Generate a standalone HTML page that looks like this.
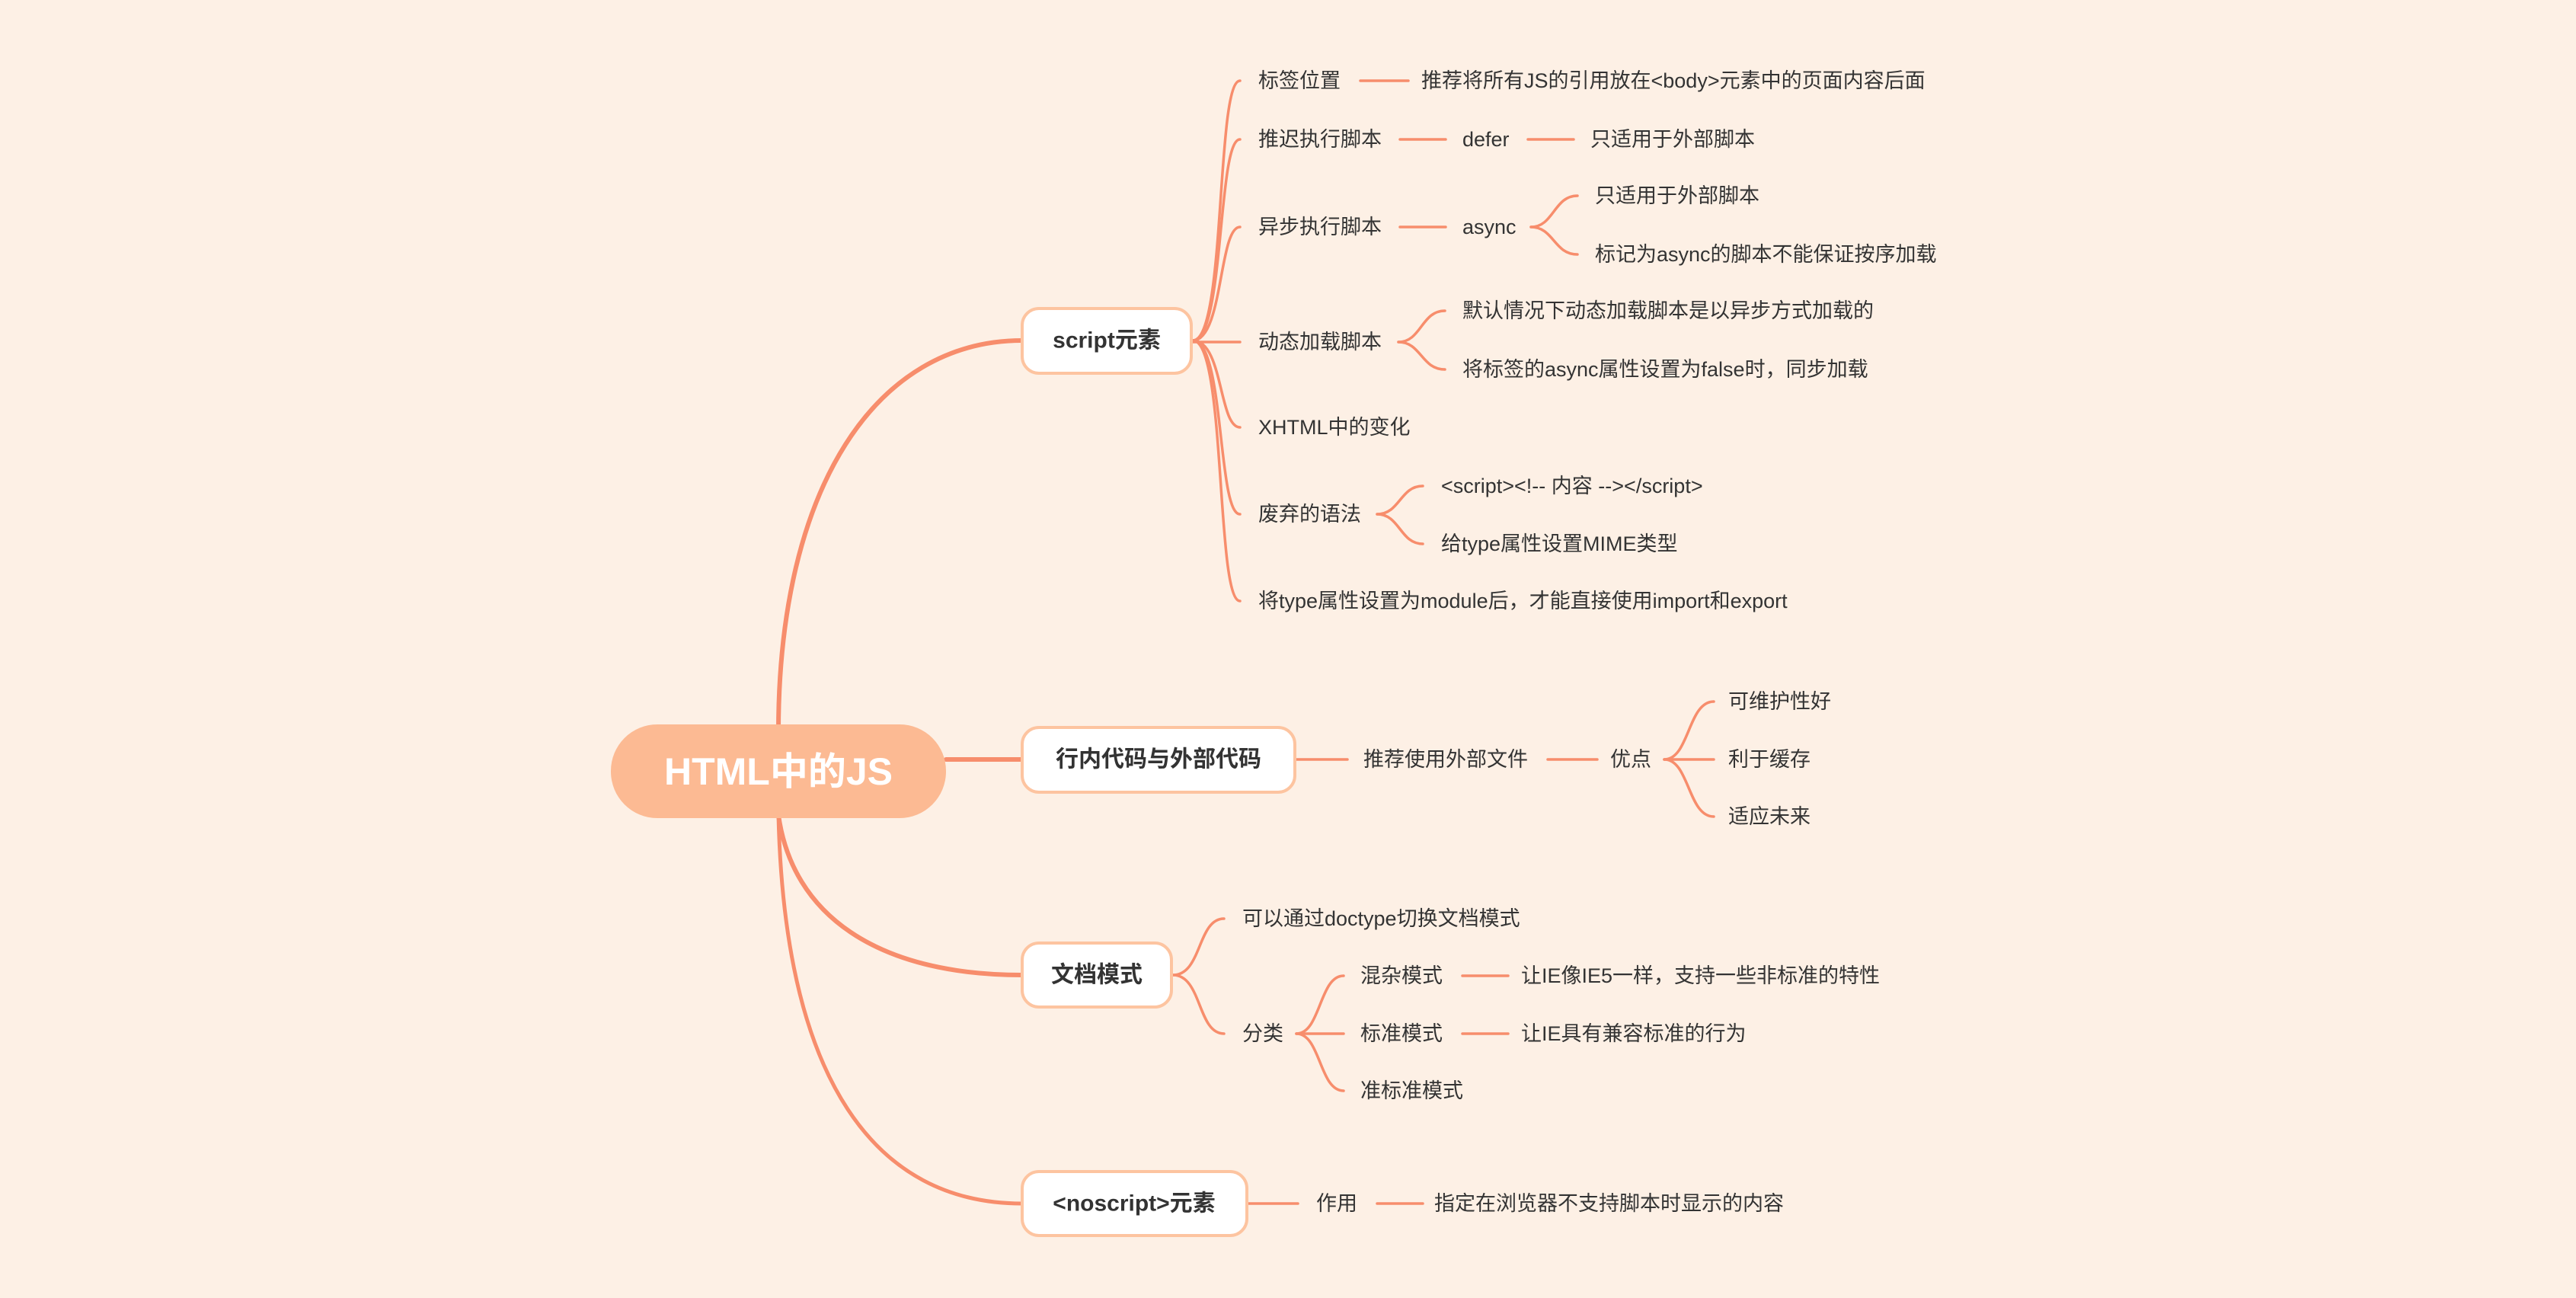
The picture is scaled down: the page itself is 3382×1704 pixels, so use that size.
<!DOCTYPE html>
<html><head><meta charset="utf-8"><style>
html,body{margin:0;padding:0;background:#fdf0e5;}
svg{display:block}
text{font-family:"Liberation Sans","Noto Sans CJK SC",sans-serif;fill:#333;dominant-baseline:central;}
.t{font-size:27px}
.b{font-size:30px;font-weight:bold}
</style></head><body>
<svg width="3382" height="1704" viewBox="0 0 3382 1704" xmlns="http://www.w3.org/2000/svg">
<rect width="3382" height="1704" fill="#fdf0e5"/>
<g fill="none" stroke="#f78d6c" stroke-linecap="round">
<!-- root connectors -->
<path d="M1022 960 C1022 640 1150 447 1342 447" stroke-width="6"/>
<path d="M1242 997 L1342 997" stroke-width="6"/>
<path d="M1022 1070 C1040 1200 1150 1280 1342 1280" stroke-width="6"/>
<path d="M1022 1070 C1030 1420 1150 1580 1342 1580" stroke-width="5"/>
<!-- script children -->
<g stroke-width="3.5">
<path d="M1566 447 C1610 447 1596 106 1628 106"/>
<path d="M1566 447 C1608 447 1598 183 1628 183"/>
<path d="M1566 447 C1606 447 1600 298 1628 298"/>
<path d="M1566 449 L1628 449"/>
<path d="M1566 447 C1606 447 1600 561 1628 561"/>
<path d="M1566 447 C1608 447 1598 675 1628 675"/>
<path d="M1566 447 C1610 447 1596 789 1628 789"/>
<!-- level 3 -->
<path d="M1786 106 L1849 106"/>
<path d="M1838 183 L1898 183"/>
<path d="M2006 183 L2066 183"/>
<path d="M1838 298 L1898 298"/>
<path d="M2010 298 C2040 298 2040 257 2071 257"/>
<path d="M2010 298 C2040 298 2040 334 2071 334"/>
<path d="M1836 449 C1866 449 1866 408 1897 408"/>
<path d="M1836 449 C1866 449 1866 485 1897 485"/>
<path d="M1808 675 C1838 675 1838 638 1868 638"/>
<path d="M1808 675 C1838 675 1838 714 1868 714"/>
<!-- 行内 -->
<path d="M1702 997 L1769 997"/>
<path d="M2032 997 L2097 997"/>
<path d="M2185 997 C2218 997 2216 921 2250 921"/>
<path d="M2185 997 L2250 997"/>
<path d="M2185 997 C2218 997 2216 1072 2250 1072"/>
<!-- 文档 -->
<path d="M1540 1280 C1578 1280 1572 1206 1607 1206"/>
<path d="M1540 1280 C1578 1280 1572 1357 1607 1357"/>
<path d="M1702 1357 C1734 1357 1732 1281 1764 1281"/>
<path d="M1702 1357 L1764 1357"/>
<path d="M1702 1357 C1734 1357 1732 1432 1764 1432"/>
<path d="M1920 1281 L1980 1281"/>
<path d="M1920 1357 L1980 1357"/>
<!-- noscript -->
<path d="M1639 1580 L1704 1580"/>
<path d="M1808 1580 L1868 1580"/>
</g>
</g>
<!-- root -->
<rect x="802" y="951" width="440" height="123" rx="61" fill="#fcba93"/>
<text x="1022" y="1013" text-anchor="middle" style="font-size:50px;font-weight:bold;fill:#fff">HTML中的JS</text>
<!-- level1 boxes -->
<g fill="#fff" stroke="#fdc4a0" stroke-width="4">
<rect x="1342" y="405" width="222" height="85" rx="22"/>
<rect x="1342" y="955" width="358" height="85" rx="22"/>
<rect x="1342" y="1238" width="196" height="84" rx="22"/>
<rect x="1342" y="1538" width="295" height="84" rx="22"/>
</g>
<text class="b" x="1453" y="447" text-anchor="middle">script元素</text>
<text class="b" x="1521" y="997" text-anchor="middle">行内代码与外部代码</text>
<text class="b" x="1440" y="1280" text-anchor="middle">文档模式</text>
<text class="b" x="1489" y="1580" text-anchor="middle">&lt;noscript&gt;元素</text>
<!-- texts -->
<text class="t" x="1652" y="106">标签位置</text>
<text class="t" x="1866" y="106">推荐将所有JS的引用放在&lt;body&gt;元素中的页面内容后面</text>
<text class="t" x="1652" y="183">推迟执行脚本</text>
<text class="t" x="1920" y="183">defer</text>
<text class="t" x="2088" y="183">只适用于外部脚本</text>
<text class="t" x="1652" y="298">异步执行脚本</text>
<text class="t" x="1920" y="298">async</text>
<text class="t" x="2094" y="257">只适用于外部脚本</text>
<text class="t" x="2094" y="334">标记为async的脚本不能保证按序加载</text>
<text class="t" x="1652" y="449">动态加载脚本</text>
<text class="t" x="1920" y="408">默认情况下动态加载脚本是以异步方式加载的</text>
<text class="t" x="1920" y="485">将标签的async属性设置为false时，同步加载</text>
<text class="t" x="1652" y="561">XHTML中的变化</text>
<text class="t" x="1652" y="675">废弃的语法</text>
<text class="t" x="1892" y="638">&lt;script&gt;&lt;!-- 内容 --&gt;&lt;/script&gt;</text>
<text class="t" x="1892" y="714">给type属性设置MIME类型</text>
<text class="t" x="1652" y="789">将type属性设置为module后，才能直接使用import和export</text>
<text class="t" x="1790" y="997">推荐使用外部文件</text>
<text class="t" x="2114" y="997">优点</text>
<text class="t" x="2269" y="921">可维护性好</text>
<text class="t" x="2269" y="997">利于缓存</text>
<text class="t" x="2269" y="1072">适应未来</text>
<text class="t" x="1631" y="1206">可以通过doctype切换文档模式</text>
<text class="t" x="1631" y="1357">分类</text>
<text class="t" x="1786" y="1281">混杂模式</text>
<text class="t" x="1786" y="1357">标准模式</text>
<text class="t" x="1786" y="1432">准标准模式</text>
<text class="t" x="1997" y="1281">让IE像IE5一样，支持一些非标准的特性</text>
<text class="t" x="1997" y="1357">让IE具有兼容标准的行为</text>
<text class="t" x="1728" y="1580">作用</text>
<text class="t" x="1883" y="1580">指定在浏览器不支持脚本时显示的内容</text>
</svg>
</body></html>
